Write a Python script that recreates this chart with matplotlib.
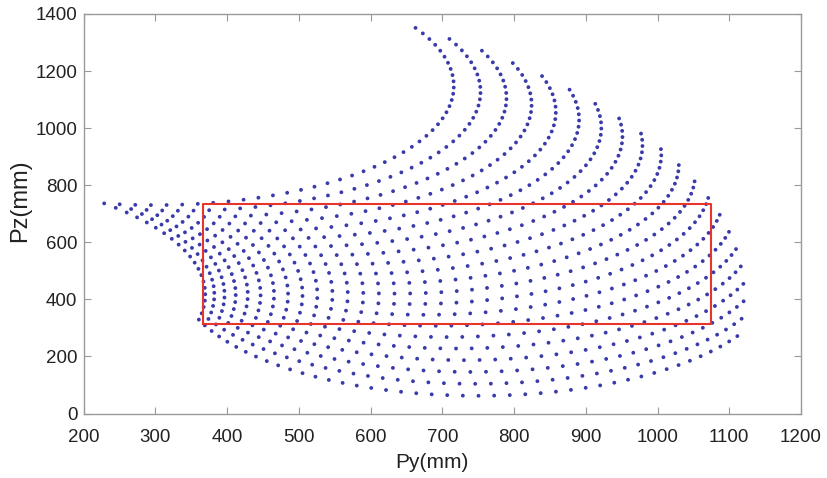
import numpy as np
import matplotlib.pyplot as plt

# joint angles sampled for the workspace (deg)
q1_deg = [4.4, 7.36, 10.32, 13.28, 16.24, 19.2, 22.16, 25.12, 28.08, 31.04, 34.0,
          36.96, 39.92, 42.88, 45.84, 48.8, 51.76, 54.72, 57.68, 60.64, 63.6]
q2_deg = [-34.3, -37.3, -40.3, -43.3, -46.3, -49.3, -52.3, -55.3, -58.3, -61.3, -64.3,
          -67.3, -70.3, -73.3, -76.3, -79.3, -82.3, -85.3, -88.3, -91.3, -94.3, -97.3,
          -100.3, -103.3, -106.3, -109.3, -112.3, -115.3, -118.3, -121.3, -124.3,
          -127.3, -130.3, -133.3, -136.3, -139.3, -142.3, -145.3, -148.3, -151.3,
          -154.3, -157.3, -160.3, -163.3]

# arm geometry (mm)
base_y, base_z = -63.7, 416.5
link1, link2 = 815.9, 417.0

# red working box (mm)
box_y = [367, 1074]
box_z = [314, 733]

xticks = [200, 300, 400, 500, 600, 700, 800, 900, 1000, 1100, 1200]
yticks = [0, 200, 400, 600, 800, 1000, 1200, 1400]

plt.rcParams['font.family'] = ['Liberation Sans', 'DejaVu Sans']

a1, a2 = np.meshgrid(np.radians(q1_deg), np.radians(q2_deg))
py = base_y + link1 * np.cos(a1) + link2 * np.cos(a1 + a2)
pz = base_z + link1 * np.sin(a1) + link2 * np.sin(a1 + a2)

fig = plt.figure(figsize=(8.27, 4.78), dpi=100)
ax = fig.add_axes([83.5 / 827, 1 - 413.5 / 478, 717.5 / 827, 399.5 / 478])

ax.scatter(py.ravel(), pz.ravel(), s=7.5, color='#3a3aaa', edgecolors='none', zorder=2)
ax.plot([box_y[0], box_y[1], box_y[1], box_y[0], box_y[0]],
        [box_z[0], box_z[0], box_z[1], box_z[1], box_z[0]],
        color='#e8352c', lw=1.5, zorder=3)

ax.set_xlim(200, 1200)
ax.set_ylim(0, 1400)
ax.set_xticks(xticks)
ax.set_yticks(yticks)
ax.tick_params(direction='in', length=5, width=0.8, color='#9a9a9a',
               top=True, right=True, labelcolor='#222222', labelsize=13.5)
ax.tick_params(axis='x', pad=11)
ax.tick_params(axis='y', pad=4.5)
for sp in ax.spines.values():
    sp.set_color('#9a9a9a')
    sp.set_linewidth(1.0)

ax.set_xlabel('Py(mm)', fontsize=15, color='#222222')
ax.xaxis.set_label_coords(0.485, -0.1)
ax.set_ylabel('Pz(mm)', fontsize=17, color='#222222')
ax.yaxis.set_label_coords(-0.073, 0.532)

plt.savefig('out.png', dpi=100)
